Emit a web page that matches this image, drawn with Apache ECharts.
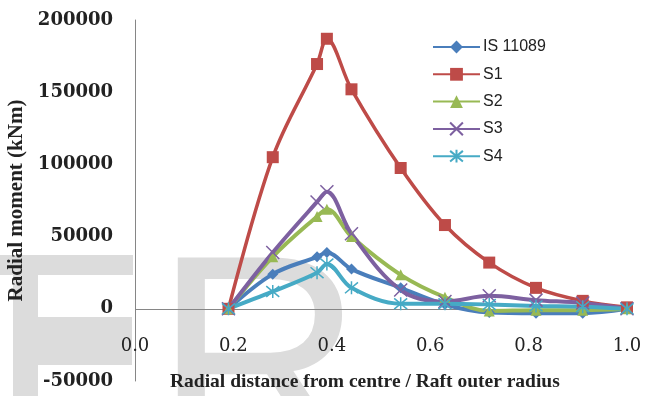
<!DOCTYPE html>
<html>
<head>
<meta charset="utf-8">
<script src="https://cdn.jsdelivr.net/npm/echarts@6/dist/echarts.min.js"></script>
<style>
  html, body { margin: 0; padding: 0; background: #fff; }
  #chart { width: 655px; height: 396px; }
</style>
</head>
<body>
<div id="chart"></div>
<script>
// Radial distance / raft outer radius
const xRatio = [0.19, 0.28, 0.37, 0.39, 0.44, 0.54, 0.63, 0.72, 0.815, 0.91, 1.0];

// Radial moment (kNm) per case
const is11089 = [0, 24000, 36000, 39000, 27500, 14500, 3000, -2500, -3000, -3000, 0];
const s1 = [0, 105000, 169500, 187000, 152000, 97500, 58000, 32000, 14500, 5500, 1000];
const s2 = [0, 36000, 64000, 69000, 50000, 23500, 8000, -1500, -1000, -1000, 0];
const s3 = [0, 39000, 74000, 81000, 52000, 13000, 5000, 9000, 6000, 4000, 0];
const s4 = [0, 12000, 25000, 31000, 14500, 3500, 3500, 3000, 2000, 1500, 0];

const seriesNames = ['IS 11089', 'S1', 'S2', 'S3', 'S4'];
const seriesValues = [is11089, s1, s2, s3, s4];
const seriesColors = ['#4A7EBB', '#BE4B48', '#98B954', '#7D60A0', '#46AAC5'];

const crossPath = 'path://M0,0L10,10M10,0L0,10';
const starPath = 'path://M0,0L10,10M10,0L0,10M5,-1L5,11';
const symbols = ['diamond', 'rect', 'triangle', crossPath, starPath];
const symbolSizes = [11, 12, 11, 13, 13];

const pairs = vals => xRatio.map((x, i) => [x, vals[i]]);

const chart = echarts.init(document.getElementById('chart'));

const wm = '#dcdcdc';

const series = seriesNames.map((name, i) => ({
  name: name,
  type: 'line',
  data: pairs(seriesValues[i]),
  smooth: 0.35,
  symbol: symbols[i],
  symbolSize: symbolSizes[i],
  lineStyle: { color: seriesColors[i], width: i === 1 ? 3.5 : 4 },
  itemStyle: {
    color: seriesColors[i],
    borderColor: seriesColors[i],
    borderWidth: i >= 3 ? 1.5 : 0
  }
}));

// zero line (x axis crossing at 0)
series[0].markLine = {
  silent: true,
  symbol: 'none',
  label: { show: false },
  lineStyle: { color: '#868686', width: 1, type: 'solid' },
  z: 1,
  data: [{ yAxis: 0 }]
};

const option = {
  animation: false,
  graphic: [
    { type: 'rect', z: -10, shape: { x: 0, y: 255, width: 133, height: 20 }, style: { fill: wm } },
    { type: 'rect', z: -10, shape: { x: 13, y: 275, width: 25, height: 121 }, style: { fill: wm } },
    { type: 'rect', z: -10, shape: { x: 13, y: 317, width: 119, height: 48 }, style: { fill: wm } },
    {
      type: 'text', z: -10, left: 154, top: 232,
      style: { text: 'R', font: '290px "Liberation Sans"', fill: wm }
    }
  ],
  grid: { left: 135, right: 28, top: 20, bottom: 15, outerBoundsMode: 'none', containLabel: false },
  legend: {
    orient: 'vertical',
    left: 427,
    top: 34,
    itemWidth: 47,
    itemHeight: 16,
    itemGap: 11.3,
    textStyle: { fontFamily: 'Liberation Sans', fontSize: 16, color: '#222', lineHeight: 16, padding: [0, 0, 0, -2] },
    data: seriesNames
  },
  xAxis: {
    type: 'value',
    min: 0,
    max: 1,
    interval: 0.2,
    axisLine: { show: false, onZero: false },
    axisTick: { show: false },
    splitLine: { show: false },
    axisLabel: {
      margin: -44,
      formatter: v => v.toFixed(1),
      fontFamily: 'DejaVu Serif',
      fontSize: 18,
      color: '#222'
    }
  },
  yAxis: {
    type: 'value',
    min: -50000,
    max: 200000,
    interval: 50000,
    name: 'Radial moment (kNm)',
    nameLocation: 'middle',
    nameGap: 99,
    nameTextStyle: { fontFamily: 'Liberation Serif', fontWeight: 'bold', fontSize: 21, color: '#222' },
    axisLine: { show: true, lineStyle: { color: '#868686', width: 1 } },
    axisTick: { show: false },
    splitLine: { show: false },
    axisLabel: {
      margin: 22,
      formatter: v => String(v),
      fontFamily: 'DejaVu Serif',
      fontWeight: 'bold',
      fontSize: 18,
      color: '#222'
    }
  },
  title: {
    text: 'Radial distance from centre / Raft outer radius',
    left: 170,
    top: 372,
    padding: 0,
    textStyle: { fontFamily: 'Liberation Serif', fontWeight: 'bold', fontSize: 19.5, color: '#222' }
  },
  series: series
};

chart.setOption(option);
</script>
</body>
</html>
